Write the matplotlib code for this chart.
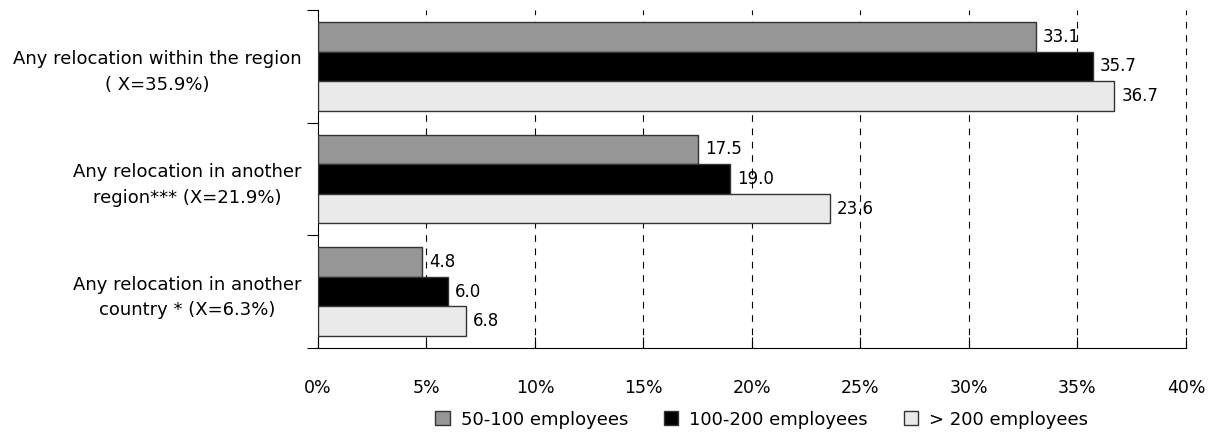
import matplotlib
matplotlib.use("Agg")
import matplotlib.pyplot as plt
import numpy as np
from matplotlib.patches import Patch

categories = [
    "Any relocation within the region\n( X=35.9%)",
    "Any relocation in another\nregion*** (X=21.9%)",
    "Any relocation in another\ncountry * (X=6.3%)",
]
series_names = ["50-100 employees", "100-200 employees", "> 200 employees"]
values_50_100 = [33.1, 17.5, 4.8]
values_100_200 = [35.7, 19.0, 6.0]
values_200_plus = [36.7, 23.6, 6.8]
colors = ["#969696", "#000000", "#eaeaea"]
x_ticks = [0, 5, 10, 15, 20, 25, 30, 35, 40]
x_tick_labels = [f"{t}%" for t in x_ticks]

plt.rcParams["font.family"] = ["DejaVu Sans"]

fig = plt.figure(figsize=(12.15, 4.37), dpi=100)
ax = fig.add_axes([0.2617, 0.2037, 0.7144, 0.7734])

series = [values_50_100, values_100_200, values_200_plus]
bar_h = 0.262
y = np.arange(len(categories))
for i, (vals, col) in enumerate(zip(series, colors)):
    pos = y + (i - 1) * bar_h
    bars = ax.barh(pos, vals, height=bar_h, color=col, edgecolor="#333333",
                   linewidth=1.0, zorder=3)
    for b, v in zip(bars, vals):
        ax.annotate(f"{v:.1f}", xy=(v, b.get_y() + b.get_height() / 2),
                    xytext=(5, 0), textcoords="offset points",
                    va="center", ha="left", fontsize=12, zorder=4)

ax.set_xlim(0, 40)
ax.set_ylim(len(categories) - 0.5, -0.5)

# dashed vertical grid
for t in x_ticks[1:]:
    ax.axvline(t, color="black", linewidth=0.8, linestyle=(0, (6, 6)),
               zorder=1, clip_on=False)

ax.set_xticks(x_ticks)
ax.set_xticklabels(x_tick_labels, fontsize=12.5)
ax.tick_params(axis="x", direction="in", length=8, pad=22, width=0.8)

# group boundaries as major ticks, labels centred as minor ticks
ax.set_yticks(np.arange(-0.5, len(categories), 1.0))
ax.set_yticklabels([])
ax.tick_params(axis="y", which="major", direction="out", length=8, width=0.8)
ax.set_yticks(y, minor=True)
ax.set_yticklabels(categories, minor=True, fontsize=13, ha="right",
                   multialignment="center", linespacing=1.55)
ax.tick_params(axis="y", which="minor", length=0, pad=12)

for s in ["top", "right"]:
    ax.spines[s].set_visible(False)
ax.spines["left"].set_linewidth(0.8)
ax.spines["bottom"].set_linewidth(0.8)

handles = [Patch(facecolor=c, edgecolor="#333333", linewidth=1.0) for c in colors]
fig.legend(handles, series_names, loc="center", bbox_to_anchor=(0.627, 0.04),
           ncol=3, frameon=False, fontsize=13, handlelength=0.8,
           handleheight=0.8, handletextpad=0.6, columnspacing=2.0)

fig.savefig("out.png", dpi=100)
